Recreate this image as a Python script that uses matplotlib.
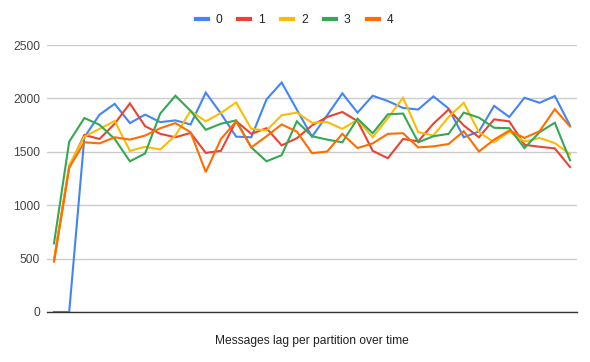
import matplotlib
matplotlib.use("Agg")
import matplotlib.pyplot as plt

plt.rcParams['font.family'] = ['Liberation Sans', 'DejaVu Sans']

series_names = ["0", "1", "2", "3", "4"]
colors = ["#4285F4", "#EA4335", "#FBBC04", "#34A853", "#FF6D01"]

s0 = [0, 0, 1636, 1848, 1949, 1769, 1848, 1778, 1794, 1756, 2054, 1858, 1642, 1636,
      1990, 2149, 1895, 1642, 1842, 2047, 1867, 2025, 1975, 1911, 1896, 2019, 1905,
      1636, 1690, 1930, 1826, 2006, 1959, 2022, 1747]
s1 = [481, 1357, 1658, 1620, 1763, 1953, 1740, 1668, 1636, 1677, 1490, 1509, 1788, 1668,
      1721, 1560, 1627, 1747, 1826, 1873, 1788, 1509, 1440, 1620, 1598, 1763, 1896,
      1747, 1636, 1804, 1785, 1566, 1547, 1532, 1358]
s2 = [488, 1373, 1642, 1715, 1788, 1509, 1547, 1522, 1652, 1883, 1785, 1864, 1962, 1715,
      1699, 1842, 1867, 1772, 1778, 1715, 1800, 1636, 1816, 2006, 1684, 1652, 1826,
      1959, 1684, 1589, 1690, 1595, 1630, 1582, 1478]
s3 = [643, 1595, 1816, 1753, 1620, 1411, 1484, 1858, 2025, 1883, 1706, 1763, 1794, 1541,
      1411, 1468, 1785, 1646, 1614, 1589, 1810, 1674, 1851, 1858, 1589, 1646, 1668,
      1867, 1820, 1725, 1721, 1535, 1684, 1772, 1421]
s4 = [472, 1351, 1589, 1579, 1636, 1614, 1652, 1721, 1769, 1683, 1310, 1620, 1785, 1541,
      1645, 1756, 1690, 1487, 1503, 1668, 1535, 1579, 1668, 1674, 1541, 1551, 1573,
      1693, 1503, 1614, 1699, 1630, 1693, 1899, 1737]
all_series = [s0, s1, s2, s3, s4]

y_ticks = [0, 500, 1000, 1500, 2000, 2500]
x_title = "Messages lag per partition over time"

W, H = 590, 362
fig = plt.figure(figsize=(W / 100, H / 100), dpi=100)
ax_l, ax_r, ax_t, ax_b = 47, 577, 45, 312
ax = fig.add_axes([ax_l / W, (H - ax_b) / H, (ax_r - ax_l) / W, (ax_b - ax_t) / H])

x = list(range(len(s0)))
lines = []
for name, col, s in zip(series_names, colors, all_series):
    ln, = ax.plot(x, s, color=col, lw=1.5, label=name, solid_joinstyle='miter')
    lines.append(ln)

fs = 8.64
fpx = fs * 100 / 72

pad = 7 / 15.15
ax.set_xlim(-pad, len(s0) - 1 + pad)
ax.set_ylim(0, 2500)
ax.set_yticks(y_ticks)
ax.set_yticklabels([str(v) for v in y_ticks])
ax.set_xticks([])
ax.tick_params(axis='y', length=0, pad=5, labelsize=fs, labelcolor='#444444')
ax.grid(axis='y', color='#cccccc', lw=1)
ax.set_axisbelow(True)
for sp in ['top', 'right', 'left']:
    ax.spines[sp].set_visible(False)
ax.spines['bottom'].set_color('#333333')
ax.spines['bottom'].set_linewidth(1)
ax.spines['bottom'].set_zorder(3)

leg = fig.legend(handles=lines, labels=series_names, loc='center',
                 bbox_to_anchor=(294.5 / W, (H - 20) / H), ncol=5, frameon=False,
                 fontsize=fs, handlelength=12 / fpx, handletextpad=8 / fpx,
                 columnspacing=16 / fpx, borderpad=0, borderaxespad=0)
for h in leg.legend_handles:
    h.set_linewidth(3)
for t in leg.get_texts():
    t.set_color('#222222')

fig.text(312 / W, (H - 341) / H, x_title, ha='center', va='center',
         fontsize=fs, color='#222222')

fig.savefig("out.png", dpi=100)
